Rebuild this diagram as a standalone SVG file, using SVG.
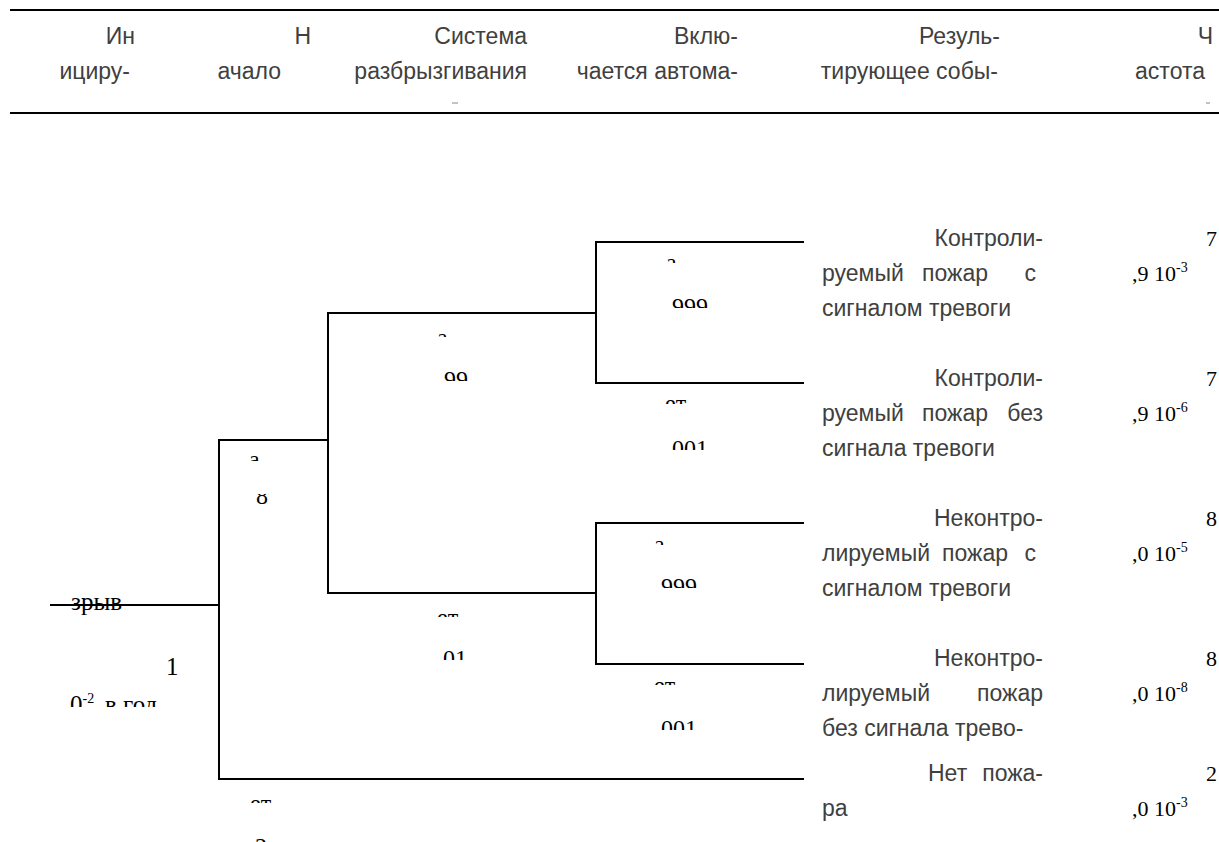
<svg xmlns="http://www.w3.org/2000/svg" width="1219" height="842" viewBox="0 0 1219 842">
<style>
.h{font-family:"Liberation Sans",Arial,sans-serif;font-size:23px;fill:#404040}
.s{font-family:"Liberation Serif","Times New Roman",serif;font-size:24px;fill:#000}
.r{font-family:"Liberation Serif","Times New Roman",serif;font-size:25px;fill:#000}
.f{font-family:"Liberation Serif","Times New Roman",serif;font-size:22px;fill:#000}
.sup{font-size:14px}
.ln{stroke:#000;stroke-width:2;fill:none}
.dash{stroke:#888;stroke-width:1}
</style>
<defs>
<clipPath id="c1"><rect x="240" y="440" width="60" height="21"/></clipPath>
<clipPath id="c2"><rect x="240" y="494" width="60" height="30"/></clipPath>
<clipPath id="c3"><rect x="420" y="315" width="80" height="22"/></clipPath>
<clipPath id="c4"><rect x="420" y="360" width="80" height="21"/></clipPath>
<clipPath id="c5"><rect x="650" y="245" width="80" height="18"/></clipPath>
<clipPath id="c6"><rect x="650" y="290" width="80" height="18"/></clipPath>
<clipPath id="c7"><rect x="650" y="390" width="80" height="14"/></clipPath>
<clipPath id="c8"><rect x="650" y="430" width="80" height="20"/></clipPath>
<clipPath id="c9"><rect x="640" y="530" width="80" height="15"/></clipPath>
<clipPath id="c10"><rect x="640" y="570" width="80" height="18"/></clipPath>
<clipPath id="c11"><rect x="420" y="600" width="80" height="17"/></clipPath>
<clipPath id="c12"><rect x="420" y="640" width="80" height="20"/></clipPath>
<clipPath id="c13"><rect x="640" y="670" width="80" height="15"/></clipPath>
<clipPath id="c14"><rect x="640" y="710" width="80" height="20"/></clipPath>
<clipPath id="c15"><rect x="240" y="785" width="60" height="18"/></clipPath>
<clipPath id="c16"><rect x="40" y="680" width="160" height="27"/></clipPath>
</defs>
<rect width="1219" height="842" fill="#fff"/>
<g id="header">
<line class="ln" x1="10" y1="10" x2="1219" y2="10"/>
<line class="ln" x1="10" y1="113" x2="1219" y2="113"/>
<text class="h" x="135" y="44" text-anchor="end">Ин</text>
<text class="h" x="311" y="44" text-anchor="end">Н</text>
<text class="h" x="527" y="44" text-anchor="end">Система</text>
<text class="h" x="738" y="44" text-anchor="end">Вклю-</text>
<text class="h" x="1000" y="44" text-anchor="end">Резуль-</text>
<text class="h" x="1213" y="44" text-anchor="end">Ч</text>
<text class="h" x="130" y="79" text-anchor="end">ициру-</text>
<text class="h" x="281" y="79" text-anchor="end">ачало</text>
<text class="h" x="527" y="79" text-anchor="end">разбрызгивания</text>
<text class="h" x="738" y="79" text-anchor="end">чается автома-</text>
<text class="h" x="998" y="79" text-anchor="end">тирующее собы-</text>
<text class="h" x="1205" y="79" text-anchor="end">астота</text>
<line class="dash" x1="452" y1="103" x2="458" y2="103"/>
<line class="dash" x1="1206" y1="103" x2="1210" y2="103"/>
</g>
<g id="connectors">
<line class="ln" x1="50" y1="605" x2="219" y2="605"/>
<line class="ln" x1="219" y1="439" x2="219" y2="780"/>
<line class="ln" x1="218" y1="440" x2="328" y2="440"/>
<line class="ln" x1="328" y1="312" x2="328" y2="594"/>
<line class="ln" x1="327" y1="313" x2="596" y2="313"/>
<line class="ln" x1="327" y1="593" x2="596" y2="593"/>
<line class="ln" x1="596" y1="241" x2="596" y2="384"/>
<line class="ln" x1="595" y1="242" x2="804" y2="242"/>
<line class="ln" x1="595" y1="383" x2="804" y2="383"/>
<line class="ln" x1="596" y1="522" x2="596" y2="665"/>
<line class="ln" x1="595" y1="523" x2="804" y2="523"/>
<line class="ln" x1="595" y1="664" x2="804" y2="664"/>
<line class="ln" x1="218" y1="779" x2="804" y2="779"/>
</g>
<g id="root">
<text class="r" x="71" y="610">зрыв</text>
<text class="r" x="166" y="675">1</text>
<text class="r" x="70" y="713" clip-path="url(#c16)">0<tspan class="sup" dy="-10">-2</tspan><tspan x="105" dy="10">в</tspan><tspan x="123">год</tspan></text>
</g>
<g id="b1-labels">
<text class="s" x="249" y="467" clip-path="url(#c1)">а</text>
<text class="s" x="256" y="504" clip-path="url(#c2)">8</text>
<text class="s" x="250" y="811" clip-path="url(#c15)">ет</text>
<text class="s" x="255" y="854">2</text>
</g>
<g id="b2-labels">
<text class="s" x="437" y="345" clip-path="url(#c3)">а</text>
<text class="s" x="444" y="387" clip-path="url(#c4)">99</text>
<text class="s" x="437" y="625" clip-path="url(#c11)">ет</text>
<text class="s" x="443" y="666" clip-path="url(#c12)">01</text>
</g>
<g id="b3-labels">
<text class="s" x="666" y="270" clip-path="url(#c5)">а</text>
<text class="s" x="672" y="314" clip-path="url(#c6)">999</text>
<text class="s" x="665" y="411" clip-path="url(#c7)">ет</text>
<text class="s" x="672" y="456" clip-path="url(#c8)">001</text>
<text class="s" x="654" y="552" clip-path="url(#c9)">а</text>
<text class="s" x="661" y="594" clip-path="url(#c10)">999</text>
<text class="s" x="654" y="693" clip-path="url(#c13)">ет</text>
<text class="s" x="661" y="736" clip-path="url(#c14)">001</text>
</g>
<g id="outcome1">
<text class="h" x="1043" y="246" text-anchor="end">Контроли-</text>
<text class="h" x="822" y="281">руемый</text>
<text class="h" x="955" y="281" text-anchor="middle">пожар</text>
<text class="h" x="1036" y="281" text-anchor="end">с</text>
<text class="h" x="822" y="316">сигналом тревоги</text>
<text class="f" x="1206" y="246">7</text>
<text class="f" x="1132" y="281">,9 10<tspan class="sup" dy="-9">-3</tspan></text>
</g>
<g id="outcome2">
<text class="h" x="1043" y="386" text-anchor="end">Контроли-</text>
<text class="h" x="822" y="421">руемый</text>
<text class="h" x="955" y="421" text-anchor="middle">пожар</text>
<text class="h" x="1043" y="421" text-anchor="end">без</text>
<text class="h" x="822" y="456">сигнала тревоги</text>
<text class="f" x="1206" y="386">7</text>
<text class="f" x="1132" y="421">,9 10<tspan class="sup" dy="-9">-6</tspan></text>
</g>
<g id="outcome3">
<text class="h" x="1043" y="526" text-anchor="end">Неконтро-</text>
<text class="h" x="822" y="561">лируемый</text>
<text class="h" x="975" y="561" text-anchor="middle">пожар</text>
<text class="h" x="1036" y="561" text-anchor="end">с</text>
<text class="h" x="822" y="596">сигналом тревоги</text>
<text class="f" x="1206" y="526">8</text>
<text class="f" x="1132" y="561">,0 10<tspan class="sup" dy="-9">-5</tspan></text>
</g>
<g id="outcome4">
<text class="h" x="1043" y="666" text-anchor="end">Неконтро-</text>
<text class="h" x="822" y="701">лируемый</text>
<text class="h" x="1043" y="701" text-anchor="end">пожар</text>
<text class="h" x="822" y="736">без сигнала трево-</text>
<text class="f" x="1206" y="666">8</text>
<text class="f" x="1132" y="701">,0 10<tspan class="sup" dy="-9">-8</tspan></text>
</g>
<g id="outcome5">
<text class="h" x="928" y="781">Нет</text>
<text class="h" x="1043" y="781" text-anchor="end">пожа-</text>
<text class="h" x="822" y="816">ра</text>
<text class="f" x="1206" y="781">2</text>
<text class="f" x="1132" y="816">,0 10<tspan class="sup" dy="-9">-3</tspan></text>
</g>
</svg>
